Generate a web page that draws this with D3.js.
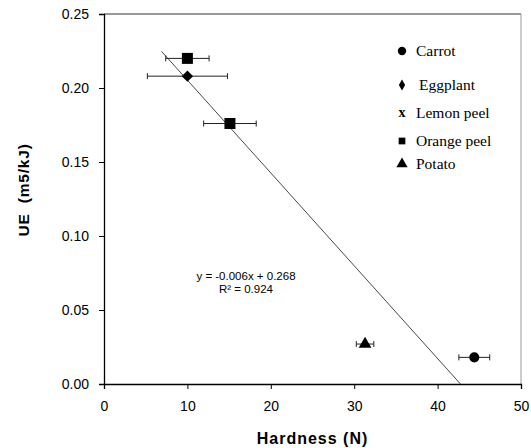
<!DOCTYPE html>
<html>
<head>
<meta charset="utf-8">
<script src="https://cdn.jsdelivr.net/npm/d3@7"></script>
<style>
  body { margin: 0; background: #fff; }
  svg { display: block; }
  .sans { font-family: "Liberation Sans", Arial, sans-serif; }
  .serif { font-family: "Liberation Serif", "Times New Roman", "DejaVu Serif", serif; }
</style>
</head>
<body>
<svg id="chart" width="531" height="448"></svg>
<script>
// Samples: hardness (N) vs. UE (m5/kJ), with horizontal error of hardness
const names    = ["Orange peel", "Eggplant", "Orange peel", "Potato", "Carrot"];
const hardness = [10.0, 10.0, 15.1, 31.3, 44.4];
const ue       = [0.220, 0.208, 0.176, 0.027, 0.018];
const hardErr  = [2.6, 4.8, 3.15, 1.05, 1.85];

// Legend entries and marker kinds
const legendNames   = ["Carrot", "Eggplant", "Lemon peel", "Orange peel", "Potato"];
const legendSymbols = ["circle", "diamond", "x", "square", "triangle"];

// Linear trend line
const trendSlope = -0.00627;
const trendIntercept = 0.268;
const rSquared = 0.924;

const xTicks = [0, 10, 20, 30, 40, 50];
const yTicks = [0, 0.05, 0.10, 0.15, 0.20, 0.25];

(function draw() {
  const svg = d3.select("#chart");
  const mLeft = 104, mRight = 521, mTop = 14, mBottom = 384;
  const fmt = d3.formatLocale({ decimal: ".", thousands: ",", grouping: [3], currency: ["", ""], minus: "-" }).format;

  const x = d3.scaleLinear().domain([0, 50]).range([mLeft, mRight]);
  const y = d3.scaleLinear().domain([0, 0.25]).range([mBottom, mTop]);

  // Plot frame: top and right edges
  svg.append("line").attr("x1", mLeft).attr("x2", mRight).attr("y1", mTop).attr("y2", mTop)
    .attr("stroke", "#333").attr("stroke-width", 1);
  svg.append("line").attr("x1", mRight).attr("x2", mRight).attr("y1", mTop).attr("y2", mBottom)
    .attr("stroke", "#999").attr("stroke-width", 1);

  // Axes
  const xAxis = svg.append("g").attr("transform", `translate(0,${mBottom})`)
    .call(d3.axisBottom(x).tickValues(xTicks).tickSize(5).tickPadding(12).tickFormat(fmt("d")));
  const yAxis = svg.append("g").attr("transform", `translate(${mLeft},0)`)
    .call(d3.axisLeft(y).tickValues(yTicks).tickSize(5).tickPadding(10).tickFormat(fmt(".2f")));
  [xAxis, yAxis].forEach(g => {
    g.attr("font-family", null).attr("font-size", null);
    g.select(".domain").attr("stroke", "#000").attr("stroke-width", 1.3);
    g.selectAll(".tick line").attr("stroke", "#000");
    g.selectAll(".tick text").attr("class", "sans").attr("font-size", 14).attr("fill", "#000");
  });

  // Axis titles
  svg.append("text").attr("class", "sans").attr("x", (mLeft + mRight) / 2).attr("y", 444)
    .attr("text-anchor", "middle").attr("font-weight", "bold").attr("font-size", 16)
    .attr("letter-spacing", 1).text("Hardness (N)");
  svg.append("text").attr("class", "sans").attr("transform", `translate(29,190) rotate(-90)`)
    .attr("text-anchor", "middle").attr("font-weight", "bold").attr("font-size", 15.5)
    .attr("letter-spacing", 0.8).attr("xml:space", "preserve").text("UE  (m5/kJ)");

  // Trend line, from x = 6.9 to where it meets UE = 0
  const xStart = 6.9, xEnd = -trendIntercept / trendSlope;
  svg.append("line")
    .attr("x1", x(xStart)).attr("y1", y(trendIntercept + trendSlope * xStart))
    .attr("x2", x(xEnd)).attr("y2", y(trendIntercept + trendSlope * xEnd))
    .attr("stroke", "#333").attr("stroke-width", 0.9);

  // Regression label
  const eqAttrs = t => t.attr("class", "sans").attr("text-anchor", "middle")
    .attr("font-size", 11.5).attr("fill", "#000");
  svg.append("text").call(eqAttrs).attr("x", 246).attr("y", 280)
    .text(`y = ${fmt(".3f")(trendSlope)}x + ${fmt(".3f")(trendIntercept)}`);
  svg.append("text").call(eqAttrs).attr("x", 246).attr("y", 293)
    .text(`R² = ${fmt(".3f")(rSquared)}`);

  // Marker shapes
  const symbolFor = {
    circle: d3.symbolCircle, diamond: d3.symbolSquare, square: d3.symbolSquare, triangle: d3.symbolTriangle
  };
  const rotateFor = { circle: 0, diamond: 45, square: 0, triangle: 0 };
  const kindOf = name => legendSymbols[legendNames.indexOf(name)];

  // Error bars
  const pts = names.map((n, i) => ({ n, hx: hardness[i], u: ue[i], e: hardErr[i] }));
  const eb = svg.append("g").attr("stroke", "#222").attr("stroke-width", 1);
  pts.forEach(p => {
    const yy = y(p.u);
    eb.append("line").attr("x1", x(p.hx - p.e)).attr("x2", x(p.hx + p.e)).attr("y1", yy).attr("y2", yy);
    [p.hx - p.e, p.hx + p.e].forEach(v =>
      eb.append("line").attr("x1", x(v)).attr("x2", x(v)).attr("y1", yy - 3).attr("y2", yy + 3));
  });

  // Data markers
  const sizes = { circle: 80, diamond: 64, square: 121, triangle: 70 };
  svg.append("g").selectAll("path").data(pts).join("path")
    .attr("transform", d => `translate(${x(d.hx)},${y(d.u)}) rotate(${rotateFor[kindOf(d.n)]})`)
    .attr("d", d => d3.symbol(symbolFor[kindOf(d.n)], sizes[kindOf(d.n)])())
    .attr("fill", "#000");

  // Legend
  const legendY = [51, 85, 113, 141, 164];
  const legendSym = { circle: d3.symbolCircle, diamond: d3.symbolDiamond, square: d3.symbolSquare, triangle: d3.symbolTriangle };
  const lg = svg.append("g");
  legendNames.forEach((name, i) => {
    const kind = legendSymbols[i];
    const cy = legendY[i];
    if (kind === "x") {
      lg.append("text").attr("class", "serif").attr("x", 402).attr("y", cy + 4)
        .attr("text-anchor", "middle").attr("font-weight", "bold").attr("font-size", 14).text("x");
    } else {
      const s = { circle: 55, diamond: 34, square: 45, triangle: 55 }[kind];
      lg.append("path").attr("transform", `translate(402,${cy})`)
        .attr("d", d3.symbol(legendSym[kind], s)()).attr("fill", "#000");
    }
    lg.append("text").attr("class", "serif").attr("x", kind === "diamond" ? 419 : 416).attr("y", cy + 5)
      .attr("font-size", 15.5).attr("fill", "#000").text(name);
  });
})();
</script>
</body>
</html>
